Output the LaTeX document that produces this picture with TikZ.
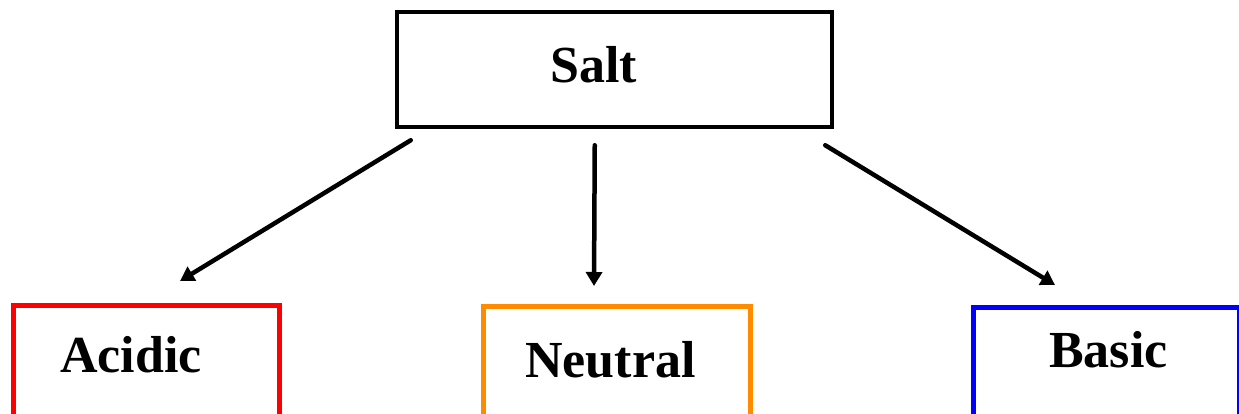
\documentclass[tikz,border=0pt]{standalone}
\usepackage{fontspec}
\setmainfont{Liberation Serif}
\usetikzlibrary{arrows.meta,calc}
\definecolor{myorange}{RGB}{255,140,0}
\begin{document}
\begin{tikzpicture}[x=1pt,y=-1pt,
  box/.style={draw,line width=4.5pt,minimum width=#1,inner sep=0pt,rectangle},
  lbl/.style={anchor=base west,inner sep=0pt,font=\fontsize{52}{60}\selectfont\bfseries},
  arr/.style={line width=4.5pt,line cap=round,-{Triangle[length=14pt,width=16pt]}}]
\useasboundingbox (0,0) rectangle (1239,414);
\clip (0,0) rectangle (1239,414);
\node[box=435pt,minimum height=115pt] (salt) at (614.5,69.5) {};
\node[box=266pt,minimum height=160pt,draw=red,anchor=north west] (acidic) at (11,303) {};
\node[box=267pt,minimum height=160pt,draw=myorange,anchor=north west] (neutral) at (481,304) {};
\node[box=266pt,minimum height=160pt,draw=blue,anchor=north west] (basic) at (971,305) {};
\node[lbl] (tsalt) at (550,83) {Salt};
\node[lbl] (tacidic) at (60,372) {Acidic};
\node[lbl] (tneutral) at (525,377) {Neutral};
\node[lbl] (tbasic) at (1049,367) {Basic};
\draw[arr] ($(salt.south west)+(16,11)$) -- ($(acidic.north west)+(169,-22)$);
\draw[arr] ($(salt.south west)+(200,16)$) -- ($(neutral.north west)+(113,-18)$);
\draw[arr] ($(salt.south east)+(-9,16)$) -- ($(basic.north west)+(84,-20)$);
\end{tikzpicture}
\end{document}
